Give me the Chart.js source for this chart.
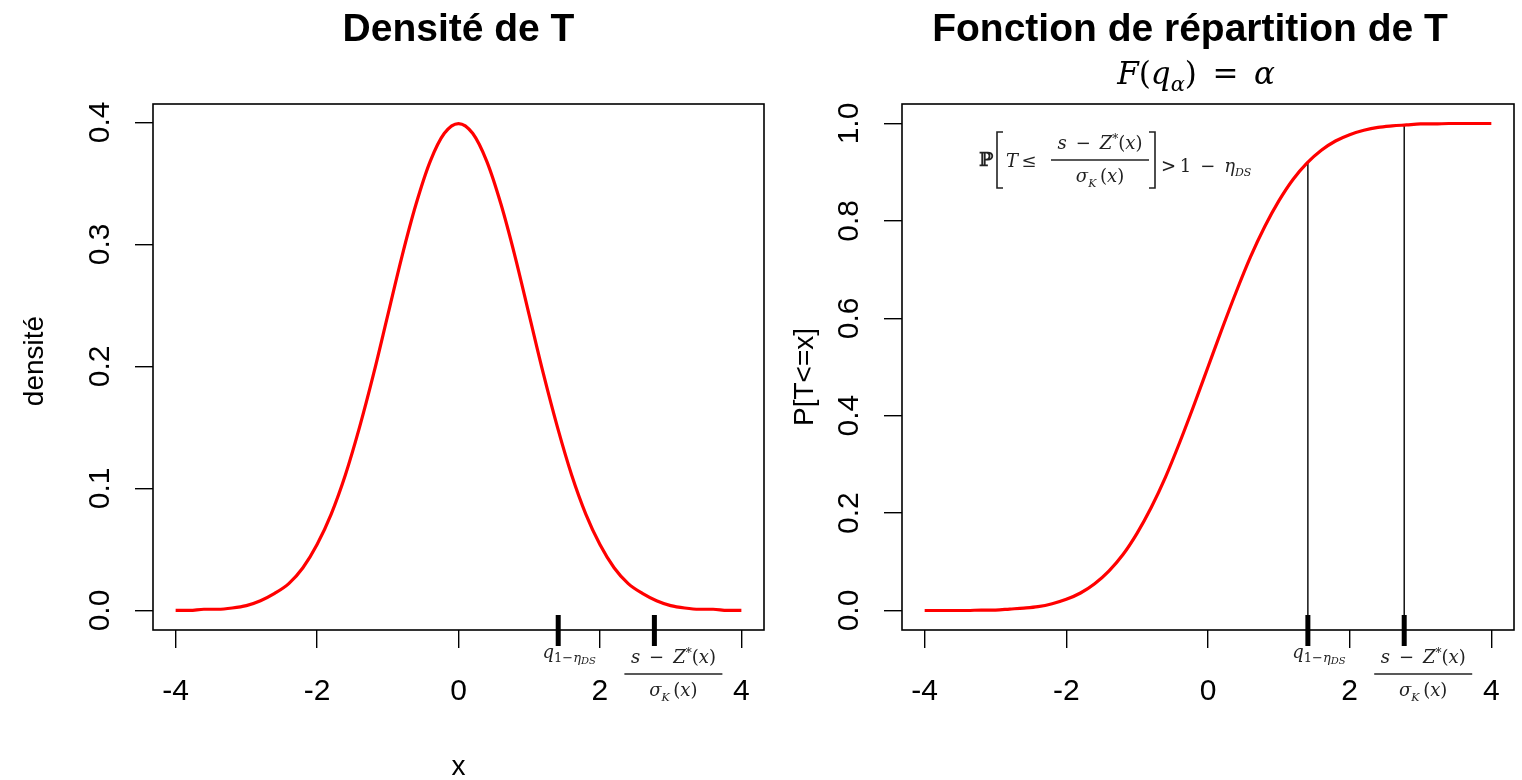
<!DOCTYPE html>
<html>
<head>
<meta charset="utf-8">
<script src="https://cdn.jsdelivr.net/npm/chart.js@4"></script>
<style>
  html, body { margin: 0; padding: 0; background: #fff; }
  body { width: 1522px; height: 780px; position: relative; overflow: hidden; }
  .panel { position: absolute; top: 0; height: 780px; }
  #densiteChart { left: 0; width: 790px; }
  #repartitionChart { left: 790px; width: 732px; }
</style>
</head>
<body>
<div class="panel" id="densiteChart"><canvas id="densiteCanvas" width="790" height="780"></canvas></div>
<div class="panel" id="repartitionChart"><canvas id="repartitionCanvas" width="732" height="780"></canvas></div>
<script>
// grille des x
const xValues = [
  -4.0, -3.8, -3.6, -3.4, -3.2, -3.0, -2.8, -2.6, -2.4, -2.2, -2.0,
  -1.8, -1.6, -1.4, -1.2, -1.0, -0.8, -0.6, -0.4, -0.2, 0.0,
  0.2, 0.4, 0.6, 0.8, 1.0, 1.2, 1.4, 1.6, 1.8, 2.0,
  2.2, 2.4, 2.6, 2.8, 3.0, 3.2, 3.4, 3.6, 3.8, 4.0
];
// densité de T
const densite = [
  0.000, 0.000, 0.001, 0.001, 0.002, 0.004, 0.008, 0.014, 0.022, 0.035, 0.054,
  0.079, 0.111, 0.150, 0.194, 0.242, 0.290, 0.333, 0.368, 0.391, 0.399,
  0.391, 0.368, 0.333, 0.290, 0.242, 0.194, 0.150, 0.111, 0.079, 0.054,
  0.035, 0.022, 0.014, 0.008, 0.004, 0.002, 0.001, 0.001, 0.000, 0.000
];
// fonction de répartition de T
const repartition = [
  0.000, 0.000, 0.000, 0.000, 0.001, 0.001, 0.003, 0.005, 0.008, 0.014, 0.023,
  0.036, 0.055, 0.081, 0.115, 0.159, 0.212, 0.274, 0.345, 0.421, 0.500,
  0.579, 0.655, 0.726, 0.788, 0.841, 0.885, 0.919, 0.945, 0.964, 0.977,
  0.986, 0.992, 0.995, 0.997, 0.999, 0.999, 1.000, 1.000, 1.000, 1.000
];
const xTicks = [-4, -2, 0, 2, 4];
const densiteTicks = [0.0, 0.1, 0.2, 0.3, 0.4];
const repartitionTicks = [0.0, 0.2, 0.4, 0.6, 0.8, 1.0];
// quantile q_{1-eta} et seuil (s - Z*(x)) / sigma_K(x)
const marks = [1.41, 2.77];
const markLevels = [0.921, 0.997];

const SANS = '"Liberation Sans", Arial, sans-serif';
const SERIF = '"DejaVu Serif", "Liberation Serif", serif';
const RED = '#ff0000';
const GAP = '\u2002';

function toPoints(ys) {
  return xValues.map((x, i) => ({ x: x, y: ys[i] }));
}

function fixTicks(values) {
  return s => { s.ticks = values.map(v => ({ value: v })); };
}

// écrit une suite de morceaux [police, texte, décalage vertical], centrée en cx
function drawRun(ctx, parts, cx, y, align) {
  let w = 0;
  parts.forEach(p => { ctx.font = p[0]; w += ctx.measureText(p[1]).width; });
  let x = align === 'left' ? cx : cx - w / 2;
  ctx.textAlign = 'left';
  parts.forEach(p => {
    ctx.font = p[0];
    ctx.fillText(p[1], x, y + p[2]);
    x += ctx.measureText(p[1]).width;
  });
  return w;
}

// q_{1-eta_DS}
function drawQuantile(ctx, cx, y) {
  ctx.save();
  ctx.fillStyle = '#222';
  ctx.textBaseline = 'alphabetic';
  drawRun(ctx, [
    ['italic 18px ' + SERIF, 'q', 0],
    ['13px ' + SERIF, '1−', 4],
    ['italic 13px ' + SERIF, 'η', 4],
    ['italic 10px ' + SERIF, 'DS', 6]
  ], cx, y);
  ctx.restore();
}

// (s - Z*(x)) / sigma_K(x)
function drawFraction(ctx, cx, barY, barW) {
  ctx.save();
  ctx.fillStyle = '#222';
  ctx.strokeStyle = '#222';
  ctx.textBaseline = 'alphabetic';
  drawRun(ctx, [
    ['italic 18px ' + SERIF, 's', 0],
    ['18px ' + SERIF, GAP + '−' + GAP, 0],
    ['italic 18px ' + SERIF, 'Z', 0],
    ['12px ' + SERIF, '*', -6],
    ['18px ' + SERIF, '(', 0],
    ['italic 18px ' + SERIF, 'x', 0],
    ['18px ' + SERIF, ')', 0]
  ], cx, barY - 11);
  ctx.lineWidth = 1.3;
  ctx.beginPath();
  ctx.moveTo(cx - barW / 2, barY);
  ctx.lineTo(cx + barW / 2, barY);
  ctx.stroke();
  drawRun(ctx, [
    ['italic 18px ' + SERIF, 'σ', 0],
    ['italic 11px ' + SERIF, 'K', 5],
    ['18px ' + SERIF, '\u2009(', 0],
    ['italic 18px ' + SERIF, 'x', 0],
    ['18px ' + SERIF, ')', 0]
  ], cx, barY + 22);
  ctx.restore();
}

// cadre, graduations, libellés façon R
function rFrame(cfg) {
  return {
    id: 'rFrame',
    afterDraw(chart) {
      const ctx = chart.ctx;
      const a = chart.chartArea;
      const xs = chart.scales.x, ys = chart.scales.y;
      ctx.save();
      ctx.strokeStyle = '#000';
      ctx.lineWidth = 1.6;
      ctx.strokeRect(a.left, a.top, a.right - a.left, a.bottom - a.top);

      ctx.fillStyle = '#000';
      ctx.font = '30px ' + SANS;
      ctx.textAlign = 'center';
      ctx.textBaseline = 'middle';
      xTicks.forEach(v => {
        ctx.fillText(String(v), xs.getPixelForValue(v), a.bottom + 62);
      });
      cfg.yTicks.forEach(v => {
        ctx.save();
        ctx.translate(a.left - 52, ys.getPixelForValue(v));
        ctx.rotate(-Math.PI / 2);
        ctx.fillText(v.toFixed(1), 0, 0);
        ctx.restore();
      });

      // titre de l'axe des y
      ctx.save();
      ctx.font = '28px ' + SANS;
      ctx.translate(a.left - cfg.yTitleGap, (a.top + a.bottom) / 2 + cfg.yTitleShift);
      ctx.rotate(-Math.PI / 2);
      ctx.fillText(cfg.yTitle, 0, 0);
      ctx.restore();
      if (cfg.xTitle) {
        ctx.font = '28px ' + SANS;
        ctx.fillText(cfg.xTitle, xs.getPixelForValue(0), a.bottom + 137);
      }

      // titre
      ctx.font = 'bold 39px ' + SANS;
      ctx.fillText(cfg.title, (a.left + a.right) / 2 + cfg.titleShift, 30);

      // repères épais sous l'axe
      ctx.lineWidth = 5;
      marks.forEach(m => {
        const px = xs.getPixelForValue(m);
        ctx.beginPath();
        ctx.moveTo(px, a.bottom - 15);
        ctx.lineTo(px, a.bottom + 16);
        ctx.stroke();
      });
      drawQuantile(ctx, xs.getPixelForValue(marks[0]) + 11, a.bottom + 28);
      drawFraction(ctx, xs.getPixelForValue(marks[1]) + 19, a.bottom + 44, 98);

      if (cfg.after) cfg.after(chart);
      ctx.restore();
    }
  };
}

function panelOptions(yMin, yMax, yTicks, pad, yWidth) {
  return {
    responsive: false,
    animation: false,
    layout: { padding: pad },
    plugins: { legend: { display: false }, tooltip: { enabled: false } },
    scales: {
      x: {
        type: 'linear', min: -4.32, max: 4.32,
        afterBuildTicks: fixTicks(xTicks),
        afterFit: s => { s.height = 150; },
        ticks: { display: false },
        border: { display: false },
        grid: { drawOnChartArea: false, drawTicks: true, tickLength: 18, color: '#000', lineWidth: 1.4 }
      },
      y: {
        type: 'linear', min: yMin, max: yMax,
        afterBuildTicks: fixTicks(yTicks),
        afterFit: s => { s.width = yWidth; },
        ticks: { display: false },
        border: { display: false },
        grid: { drawOnChartArea: false, drawTicks: true, tickLength: 18, color: '#000', lineWidth: 1.4 }
      }
    }
  };
}

const redLine = ys => ({
  data: toPoints(ys),
  showLine: true,
  borderColor: RED,
  borderWidth: 3.2,
  pointRadius: 0,
  cubicInterpolationMode: 'monotone'
});

new Chart(document.getElementById('densiteCanvas').getContext('2d'), {
  type: 'scatter',
  data: { datasets: [redLine(densite)] },
  options: panelOptions(-0.016, 0.415, densiteTicks, { left: 0, top: 104, right: 26, bottom: 0 }, 153),
  plugins: [rFrame({
    yTicks: densiteTicks, yTitle: 'densité', yTitleGap: 118, yTitleShift: -6,
    xTitle: 'x', title: 'Densité de T', titleShift: 0
  })]
});

// annotation P[T <= (s - Z*(x)) / sigma_K(x)] > 1 - eta_DS, et sous-titre F(q_alpha) = alpha
function drawProba(chart) {
  const ctx = chart.ctx;
  const a = chart.chartArea;
  const x0 = a.left + 77;
  ctx.save();
  ctx.fillStyle = '#222';
  ctx.strokeStyle = '#222';
  ctx.textBaseline = 'alphabetic';
  ctx.textAlign = 'left';
  ctx.font = 'bold 19px ' + SERIF;
  ctx.fillText('ℙ', x0, a.top + 62);
  ctx.lineWidth = 1.6;
  const bracket = (x, dir) => {
    ctx.beginPath();
    ctx.moveTo(x + 6 * dir, a.top + 28);
    ctx.lineTo(x, a.top + 28);
    ctx.lineTo(x, a.top + 84);
    ctx.lineTo(x + 6 * dir, a.top + 84);
    ctx.stroke();
  };
  bracket(x0 + 18, 1);
  drawRun(ctx, [
    ['italic 18px ' + SERIF, 'T', 0],
    ['18px ' + SERIF, '\u2009≤', 0]
  ], x0 + 27, a.top + 63, 'left');
  drawFraction(ctx, x0 + 121, a.top + 56, 98);
  bracket(x0 + 176, -1);
  drawRun(ctx, [
    ['18px ' + SERIF, '>\u20091' + GAP + '−' + GAP, 0],
    ['italic 18px ' + SERIF, 'η', 0],
    ['italic 11px ' + SERIF, 'DS', 4]
  ], x0 + 182, a.top + 68, 'left');

  ctx.fillStyle = '#000';
  drawRun(ctx, [
    ['italic 31px ' + SERIF, 'F', 0],
    ['31px ' + SERIF, '(', 0],
    ['italic 31px ' + SERIF, 'q', 0],
    ['italic 21px ' + SERIF, 'α', 7],
    ['31px ' + SERIF, ')' + GAP + '=' + GAP, 0],
    ['italic 31px ' + SERIF, 'α', 0]
  ], (a.left + a.right) / 2 - 12, 84);
  ctx.restore();
}

const guideLines = marks.map((m, i) => ({
  data: [{ x: m, y: -0.04 }, { x: m, y: markLevels[i] }],
  showLine: true,
  borderColor: '#000',
  borderWidth: 1.4,
  pointRadius: 0
}));

new Chart(document.getElementById('repartitionCanvas').getContext('2d'), {
  type: 'scatter',
  data: { datasets: [redLine(repartition)].concat(guideLines) },
  options: panelOptions(-0.04, 1.04, repartitionTicks, { left: 0, top: 104, right: 8, bottom: 0 }, 112),
  plugins: [rFrame({
    yTicks: repartitionTicks, yTitle: 'P[T<=x]', yTitleGap: 97, yTitleShift: 10,
    xTitle: null, title: 'Fonction de répartition de T', titleShift: -18,
    after: drawProba
  })]
});
</script>
</body>
</html>
